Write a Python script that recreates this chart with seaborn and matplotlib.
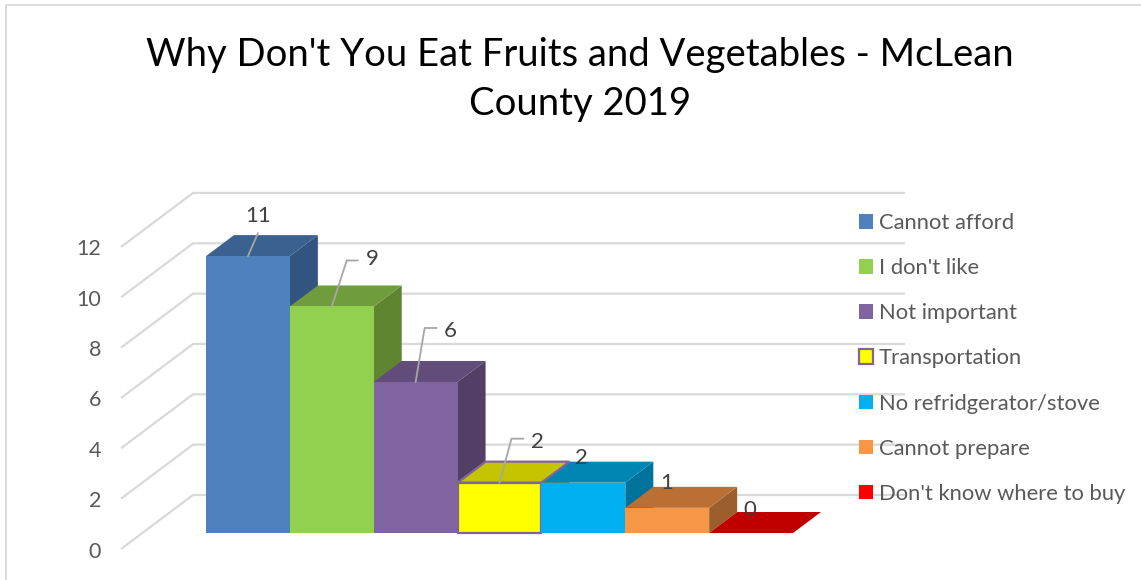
import matplotlib
matplotlib.use("Agg")
import matplotlib.pyplot as plt
import seaborn as sns
import pandas as pd
from matplotlib.patches import Polygon

reasons = ["Cannot afford", "I don't like", "Not important", "Transportation",
           "No refridgerator/stove", "Cannot prepare", "Don't know where to buy"]
counts = [11, 9, 6, 2, 2, 1, 0]
y_ticks = [0, 2, 4, 6, 8, 10, 12]

front_colors = ["#4F81BD", "#92D050", "#8064A2", "#FFFF00", "#00B0F0", "#F79646", "#FF0000"]
top_colors = ["#3B6190", "#6F9C3C", "#624C7A", "#C4C400", "#0085B5", "#BA7035", "#C00000"]
side_colors = ["#325480", "#5F8530", "#533E66", "#A0A000", "#00739D", "#9C5E2C", "#A00000"]
edge_colors = [None, None, None, "#8064A2", None, None, None]

W, H = 1141, 580
BAR_PX = 83.86
UNIT_PX = 25.17
LEFT_PX = 206
BASE_PX = 533
DX = 28 / BAR_PX
DY = 21 / UNIT_PX


def px_x(p):
    return (p - LEFT_PX) / BAR_PX - 0.5


def dy_px(p):
    return p / UNIT_PX


sns.set_theme(style="white")
plt.rcParams["font.family"] = ["Lato", "DejaVu Sans"]

fig = plt.figure(figsize=(W / 100, H / 100), dpi=100)
ax = fig.add_axes([0, 0, 1, 1])

df = pd.DataFrame({"reason": reasons, "count": counts})
sns.barplot(data=df, x="reason", y="count", hue="reason", palette=front_colors,
            width=1, saturation=1, dodge=False, legend=True, ax=ax, zorder=3,
            linewidth=0)

ax.set_xlim(px_x(0), px_x(W))
ax.set_ylim(-(H - BASE_PX) / UNIT_PX, BASE_PX / UNIT_PX)
ax.set_axis_off()

# outer frame of the chart area, only left and top are in the crop
fig.add_artist(plt.Line2D([6 / W, 6 / W, 1], [0, 1 - 4.5 / H, 1 - 4.5 / H],
                          color="#D9D9D9", lw=1.3))

# walls
for v in y_ticks:
    back = v + dy_px(BASE_PX - 495)
    front = v - dy_px(549 - BASE_PX)
    ax.plot([px_x(121), px_x(193), px_x(905)], [front, back, back],
            color="#D9D9D9", lw=1.6, zorder=1, solid_capstyle="butt")
    ax.text(px_x(101), front - dy_px(2.5), str(v), ha="right", va="center", fontsize=15.5, color="#595959")

# 3d faces
for i, v in enumerate(counts):
    l, r = i - 0.5, i + 0.5
    edge = edge_colors[i]
    lw = 1.6 if edge else 0
    top = Polygon([(l, v), (l + DX, v + DY), (r + DX, v + DY), (r, v)], closed=True,
                  facecolor=top_colors[i], edgecolor=edge or "none", lw=lw,
                  zorder=2.6 if edge else 2.5)
    ax.add_patch(top)
    if v > 0:
        side = Polygon([(r, 0), (r + DX, DY), (r + DX, v + DY), (r, v)], closed=True,
                       facecolor=side_colors[i], edgecolor="none", zorder=2)
        ax.add_patch(side)

for bar, edge in zip(ax.patches, edge_colors):
    if edge:
        bar.set_edgecolor(edge)
        bar.set_linewidth(1.6)

# value labels, offsets are pixels from the middle of the bar front top
label_offsets = [(10, 40), (41, 47), (35, 51), (38, 41), (-2, 25), (-1, 25), (-1, 23)]
leaders = [[(0, 0), (10, 23)],
           [(0, 0), (15, 46), (26, 46)],
           [(0, 0), (9, 54), (21, 54)],
           [(0, 0), (12, 44), (24, 44)],
           None, None, None]
for i, v in enumerate(counts):
    ox, oy = label_offsets[i]
    ax.text(i + ox / BAR_PX, v + dy_px(oy), str(v), ha="center", va="center",
            fontsize=16, color="#404040", zorder=6)
    if leaders[i]:
        ax.plot([i + a / BAR_PX for a, b in leaders[i]],
                [v + dy_px(b) for a, b in leaders[i]],
                color="#A6A6A6", lw=1.3, zorder=5)

handles, labels = ax.get_legend_handles_labels()
leg = ax.legend(handles, labels, loc="upper left", bbox_to_anchor=(859 / W, 1 - 213 / H),
                frameon=False, fontsize=15.8, labelcolor="#595959", handlelength=0.64,
                handleheight=0.64, handletextpad=0.27, labelspacing=1.146,
                borderpad=0, borderaxespad=0)
leg.set_zorder(7)
for patch, edge in zip(leg.get_patches(), edge_colors):
    patch.set_linewidth(0)
    if edge:
        patch.set_edgecolor(edge)
        patch.set_linewidth(1.6)

fig.text(580 / W, 1 - 55 / H, "Why Don't You Eat Fruits and Vegetables - McLean",
         ha="center", va="center", fontsize=27.5, color="black")
fig.text(580 / W, 1 - 104 / H, "County 2019", ha="center", va="center", fontsize=27.5, color="black")

fig.savefig("out.png", dpi=100)
